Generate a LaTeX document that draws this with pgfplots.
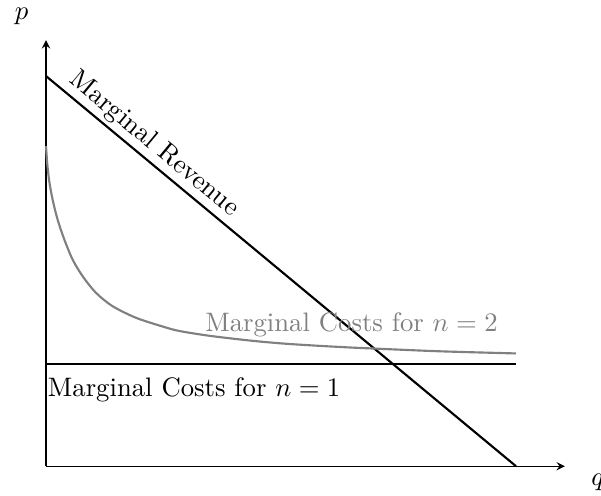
\documentclass[border=0pt]{standalone}
\usepackage{pgfplots}
\pgfplotsset{compat=1.18}
\begin{document}
\begin{tikzpicture}
\begin{axis}[
  scale only axis,
  x=17.60pt, y=14.61pt,
  xmin=0, xmax=11.04, ymin=0, ymax=10.92,
  axis lines=left,
  xtick=\empty, ytick=\empty,
  clip=false,
  axis line style={line width=0.4pt},
]
\addplot[black, line width=0.8pt] coordinates {(0,10) (10,0)};
\addplot[black, line width=0.8pt] coordinates {(0,2.626) (10,2.626)};
\addplot[gray, line width=0.8pt, smooth] coordinates {
(0,8.205) (0.028,7.736) (0.070,7.300) (0.140,6.838) (0.246,6.326)
(0.389,5.813) (0.565,5.300) (0.778,4.872) (1.062,4.446) (1.415,4.103)
(1.912,3.805) (2.477,3.582) (2.832,3.467) (3.469,3.344) (4.319,3.223)
(5.020,3.146) (5.742,3.090) (6.443,3.044) (6.932,3.018) (8.356,2.946) (10,2.890)};
\node[rotate=-39.69, anchor=center] at (axis cs:2.30,8.25) {Marginal Revenue};
\node[gray, anchor=base] at (axis cs:6.50,3.44) {Marginal Costs for $n=2$};
\node[anchor=base west, inner sep=0pt] at (axis cs:0.03,1.795) {Marginal Costs for $n=1$};
\node[anchor=base] at (axis cs:-0.52,11.46) {$p$};
\node[anchor=base] at (axis cs:11.74,-0.50) {$q$};
\coordinate (bbsw) at (axis cs:-0.9787,-0.7436);
\coordinate (bbne) at (axis cs:11.809,11.949);
\end{axis}
\pgfresetboundingbox
\useasboundingbox (bbsw) rectangle (bbne);
\end{tikzpicture}
\end{document}
